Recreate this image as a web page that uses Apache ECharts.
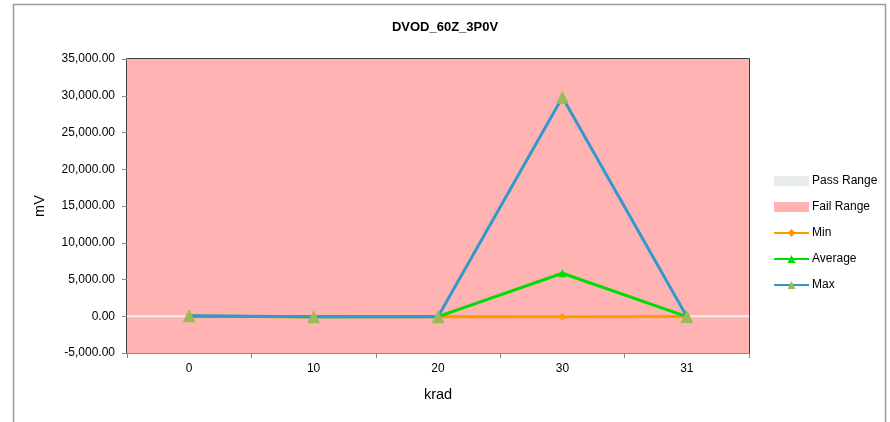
<!DOCTYPE html>
<html><head><meta charset="utf-8">
<script src="https://cdn.jsdelivr.net/npm/echarts@6/dist/echarts.min.js"></script>
<style>html,body{margin:0;padding:0;background:#fff}#c{width:890px;height:422px}</style>
</head><body><div id="c"></div>
<script>
const categories = ['0', '10', '20', '30', '31'];
const minValues = [0, -60, -40, -60, -40];
const avgValues = [0, -60, -40, 5850, -40];
const maxValues = [60, -80, -60, 29800, -40];
const yTicks = { min: -5000, max: 35000, interval: 5000 };
const passRange = [-150, 150];
const failRange = [-5000, 35000];

const FONT = 'Liberation Sans';
const chart = echarts.init(document.getElementById('c'), null, { renderer: 'canvas' });
chart.setOption({
  animation: false,
  backgroundColor: '#fff',
  textStyle: { fontFamily: FONT },
  graphic: [{ type: 'rect', shape: { x: 13.5, y: 4.5, width: 872, height: 440 }, style: { fill: 'none', stroke: '#9a9a9a', lineWidth: 1.5 }, z: -10 }],
  title: { text: 'DVOD_60Z_3P0V', left: 'center', top: 16, textStyle: { fontSize: 13, fontWeight: 'bold', color: '#000', fontFamily: FONT } },
  grid: { left: 127, right: 141, top: 59, bottom: 69, show: true, borderColor: '#000', borderWidth: 1.5, backgroundColor: 'transparent' },
  legend: {
    orient: 'vertical', left: 773, top: 175, padding: 0, itemWidth: 35, itemHeight: 10, itemGap: 14,
    textStyle: { fontSize: 12, color: '#000', fontFamily: FONT, padding: [0, 0, 0, -2] },
    data: [
      { name: 'Pass Range', icon: 'rect', itemStyle: { color: '#E6ECEA' } },
      { name: 'Fail Range', icon: 'rect', itemStyle: { color: '#FFB3B3' } },
      { name: 'Min' }, { name: 'Average' }, { name: 'Max' }
    ]
  },
  xAxis: {
    type: 'category', data: categories, boundaryGap: true,
    name: 'krad', nameLocation: 'middle', nameGap: 34, nameTextStyle: { fontSize: 14.5, color: '#000', fontFamily: FONT },
    axisLine: { onZero: false, lineStyle: { color: '#868686', width: 1 } },
    axisTick: { show: true, length: 5, alignWithLabel: false, lineStyle: { color: '#868686' } },
    axisLabel: { color: '#000', fontSize: 12, margin: 10 },
    splitLine: { show: false }
  },
  yAxis: {
    type: 'value', min: yTicks.min, max: yTicks.max, interval: yTicks.interval,
    name: 'mV', nameLocation: 'middle', nameGap: 80, nameRotate: 90, nameTextStyle: { fontSize: 14.5, color: '#000', fontFamily: FONT },
    axisLine: { show: true, lineStyle: { color: '#868686', width: 1 } },
    axisTick: { show: true, length: 5, lineStyle: { color: '#868686' } },
    axisLabel: { color: '#000', fontSize: 12, margin: 12,
      formatter: v => v.toLocaleString('en-US', { minimumFractionDigits: 2, maximumFractionDigits: 2 }) },
    splitLine: { show: false }
  },
  series: [
    { name: 'Fail Range', type: 'line', data: [], itemStyle: { color: '#FFB3B3' }, z: 0,
      markArea: { silent: true, itemStyle: { color: '#FFB3B3' }, data: [[{ yAxis: failRange[0] }, { yAxis: failRange[1] }]] } },
    { name: 'Pass Range', type: 'line', data: [], itemStyle: { color: '#E6ECEA' }, z: 1,
      markArea: { silent: true, itemStyle: { color: '#F2F2F0' }, data: [[{ yAxis: passRange[0] }, { yAxis: passRange[1] }]] } },
    { name: 'Min', type: 'line', data: minValues, symbol: 'diamond', symbolSize: 8,
      lineStyle: { color: '#FF9900', width: 3 }, itemStyle: { color: '#FF9900' }, z: 3 },
    { name: 'Average', type: 'line', data: avgValues, symbol: 'triangle', symbolSize: 8,
      lineStyle: { color: '#00DD00', width: 3 }, itemStyle: { color: '#00DD00' }, z: 4 },
    { name: 'Max', type: 'line', data: maxValues, symbol: 'triangle', symbolSize: 13,
      lineStyle: { color: '#3399CC', width: 3 }, itemStyle: { color: '#9BBB59' }, z: 5 }
  ]
});
</script></body></html>
